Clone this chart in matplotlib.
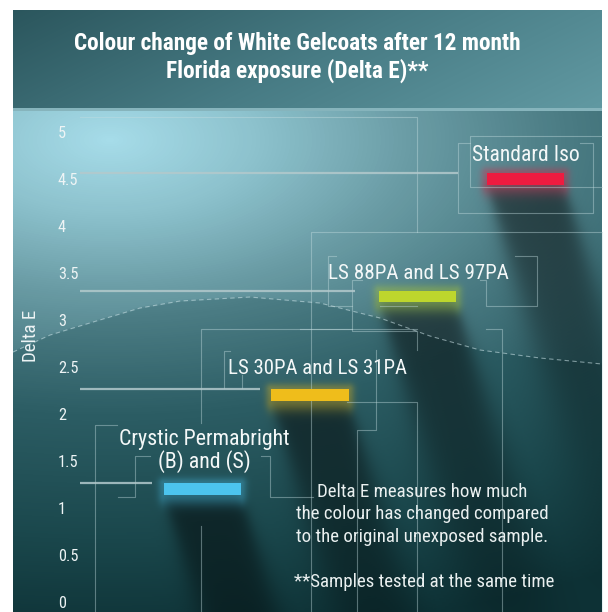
import os
import numpy as np
import matplotlib
matplotlib.use("Agg")
import matplotlib.pyplot as plt
from matplotlib.colors import LinearSegmentedColormap, to_rgb
from matplotlib import font_manager
from matplotlib.font_manager import FontProperties

# --- 데이터 ---
products = ["Crystic Permabright\n(B) and (S)", "LS 30PA and LS 31PA",
            "LS 88PA and LS 97PA", "Standard Iso"]
delta_e = [1.2, 2.2, 3.25, 4.5]
bar_colors = ["#4cc4ee", "#efbd1b", "#bdd62d", "#ee1b40"]
y_ticks = [0, 0.5, 1, 1.5, 2, 2.5, 3, 3.5, 4, 4.5, 5]
y_tick_labels = ["0", "0.5", "1", "1.5", "2", "2.5", "3", "3.5", "4", "4.5", "5"]
title_lines = ["Colour change of White Gelcoats after 12 month",
               "Florida exposure (Delta E)**"]
note_lines = ["Delta E measures how much",
              "the colour has changed compared",
              "to the original unexposed sample."]
footnote = "**Samples tested at the same time"

# --- 레이아웃 (픽셀) ---
W, H, DPI = 608, 612, 100
PANEL_L, PANEL_R = 13, 602
BANNER_T, BANNER_B = 10, 108
CHART_T = 111
Y0_PX, PX_PER_UNIT = 602, 94.0
X0_PX, PX_PER_CAT = 202.3, 107.7
BAR_W, BAR_H = 0.715, 0.124
SHADOW_SLOPE = 0.3
label_dx = [2, 7, 1, 0]          # 라벨 가로 오프셋 (px)
label_gap = [15, 15, 12, 12]     # 막대 윗변 ~ 라벨 baseline (px)
label_width = [171, 180, 181, 108]
guide_end_px = [152, 260, 355, 458]
GUIDE_START_PX = 80


def pick_font(weight):
    # 좁은(condensed) 글꼴이 있으면 사용, 없으면 DejaVu Sans
    cands = [("Liberation Sans Narrow", "normal", "Narrow"),
             ("Roboto Condensed", "normal", "Condensed"),
             ("Roboto", "condensed", "Condensed"),
             ("Noto Sans Condensed", "normal", "Condensed"),
             ("Noto Sans", "condensed", "Condensed"),
             ("Open Sans Condensed", "normal", "Condensed"),
             ("Open Sans", "condensed", "Condensed"),
             ("DejaVu Sans", "condensed", "Condensed"),
             ("Roboto", "normal", "Roboto"),
             ("Liberation Sans", "normal", "Liberation")]
    for fam, stretch, key in cands:
        try:
            p = font_manager.findfont(FontProperties(family=fam, stretch=stretch, weight=weight),
                                      fallback_to_default=False)
        except Exception:
            continue
        if key in os.path.basename(p):
            return p
    return font_manager.findfont(FontProperties(family="DejaVu Sans", weight=weight))


REG = pick_font("normal")
BOLD = pick_font("bold")


def fp(path):
    return FontProperties(fname=path)


# 배경 장식선 (px)
wave_px_x = [13, 50, 93, 140, 180, 250, 320, 380, 430, 480, 540, 602]
wave_px_y = [352, 335, 322, 308, 301, 297, 303, 318, 336, 350, 358, 364]
deco = [
    [(80, 117), (417, 117), (417, 232)],
    [(470, 143), (458, 143), (458, 213), (593, 213), (593, 143), (580, 143)],
    [(602, 136), (470, 136), (470, 187), (602, 187)],
    [(602, 232), (311, 232), (311, 612)],
    [(336, 256), (328, 256), (328, 306), (352, 306)],
    [(515, 256), (537, 256), (537, 306), (486, 306), (486, 280), (480, 280)],
    [(362, 280), (352, 280), (352, 331), (417, 331), (417, 350)],
    [(380, 306), (417, 306)],
    [(417, 329), (201, 329), (201, 423)],
    [(201, 526), (201, 612)],
    [(230, 351), (224, 351), (224, 388)],
    [(242, 375), (242, 388)],
    [(376, 350), (376, 430), (357, 430), (357, 612)],
    [(347, 402), (417, 402), (417, 612)],
    [(486, 329), (502, 329), (502, 612)],
    [(300, 329), (352, 329)],
    [(117, 425), (95, 425), (95, 612)],
    [(118, 497), (135, 497), (135, 456), (150, 456)],
    [(261, 456), (270, 456), (270, 497), (313, 497)],
    [(602, 232), (602, 612)],
]


def sigmoid(z):
    return 1.0 / (1.0 + np.exp(-np.clip(z, -50, 50)))


fig = plt.figure(figsize=(W / DPI, H / DPI), dpi=DPI)
renderer = fig.canvas.get_renderer()


def fit_width(artist, target_px, along="width"):
    # 글꼴 너비가 원본과 다르므로 폭에 맞춰 크기를 조정
    ext = artist.get_window_extent(renderer)
    cur = ext.width if along == "width" else ext.height
    artist.set_fontsize(artist.get_fontsize() * target_px / cur)
    return artist.get_fontsize()


bg = fig.add_axes([0, 0, 1, 1], zorder=0)
bg.set_xlim(0, W)
bg.set_ylim(H, 0)
bg.axis("off")

ax = fig.add_axes([PANEL_L / W, 0, (PANEL_R - PANEL_L) / W, (H - CHART_T) / H], zorder=1)
ax.set_xlim((PANEL_L - X0_PX) / PX_PER_CAT, (PANEL_R - X0_PX) / PX_PER_CAT)
ax.set_ylim((Y0_PX - H) / PX_PER_UNIT, (Y0_PX - CHART_T) / PX_PER_UNIT)
ax.patch.set_alpha(0)
for s in ax.spines.values():
    s.set_visible(False)

xpos = np.arange(len(products))
vals = np.array(delta_e)

# --- 배경 그라디언트 이미지 ---
yy, xx = np.mgrid[0:H, 0:W] + 0.5
img = np.ones((H, W, 3))
in_x = (xx >= PANEL_L) & (xx < PANEL_R)

banner_cmap = LinearSegmentedColormap.from_list("b", ["#2b565d", "#477b84", "#6199a2"])
tb = np.clip(0.75 * (xx - PANEL_L) / (PANEL_R - PANEL_L) + 0.25 * (yy - BANNER_T) / (BANNER_B - BANNER_T), 0, 1)
m_banner = in_x & (yy >= BANNER_T) & (yy < BANNER_B)
img[m_banner] = banner_cmap(tb[m_banner])[:, :3]
m_strip = in_x & (yy >= BANNER_B) & (yy < CHART_T)
img[m_strip] = to_rgb("#86b4bc")

stops = [(0, "#a6dce9"), (0.15, "#8cc1cc"), (0.3, "#6a9ca5"), (0.45, "#4c7d85"),
         (0.65, "#2c5d64"), (0.9, "#1a474c"), (1.1, "#0e3236")]
chart_cmap = LinearSegmentedColormap.from_list("c", [(p / 1.1, c) for p, c in stops])
r = np.hypot((xx - 110) / 1000, (yy - 140) / 500)
wave_at = np.interp(xx, wave_px_x, wave_px_y)
t = r + 0.1 * np.clip((yy - wave_at) / 3 + 0.5, 0, 1)
t = np.clip(t / 1.1, 0, 1)
chart = chart_cmap(t)[..., :3]

# 막대 그림자 / 빛 번짐 (막대 위치는 ax 스케일로 변환)
shade = np.zeros((H, W))
rects = []
for xc, v in zip(xpos, vals):
    (xl, yb), (xr, yt) = ax.transData.transform([(xc - BAR_W / 2, v - BAR_H / 2),
                                                 (xc + BAR_W / 2, v + BAR_H / 2)])
    top, bot = H - yt, H - yb
    rects.append((xl, xr, top, bot))
    d = yy - bot
    u = xx - SHADOW_SLOPE * np.clip(d, 0, None)
    soft = 3 + 0.04 * np.clip(d, 0, None)
    edge = sigmoid((u - xl) / soft) * sigmoid((xr - u) / soft)
    fade = np.clip(1 - d / 430, 0, 1) ** 0.8 * sigmoid(d / 5)
    shade = np.maximum(shade, edge * fade)
chart = chart * (1 - 0.5 * shade[..., None])

for (xl, xr, top, bot), c in zip(rects, bar_colors):
    dx = np.maximum.reduce([xl - xx, np.zeros_like(xx), xx - xr])
    dy = np.maximum.reduce([top - yy, np.zeros_like(yy), (yy - bot) / 1.8])
    g = 0.35 * np.exp(-(np.hypot(dx, dy) / 6) ** 2)
    chart = chart * (1 - g[..., None]) + np.array(to_rgb(c)) * g[..., None]

m_chart = in_x & (yy >= CHART_T)
img[m_chart] = chart[m_chart]
bg.imshow(img, extent=(0, W, H, 0), interpolation="bilinear", zorder=0)

# 물결선 (점선)
bg.plot(wave_px_x, wave_px_y, color="#cfe6ea", lw=0.8, ls=(0, (4, 3)), alpha=0.55, zorder=1)

# 장식 프레임선 (그림자 위에)
for seg in deco:
    sx, sy = zip(*seg)
    ax.plot(sx, sy, color="#c4dde0", lw=0.8, alpha=0.42, transform=bg.transData,
            zorder=2, clip_on=False)

# --- 데이터 ---
for i, v in enumerate(vals):
    xmin = (GUIDE_START_PX - X0_PX) / PX_PER_CAT
    xmax = (guide_end_px[i] - X0_PX) / PX_PER_CAT
    ax.hlines(v + BAR_H / 2, xmin, xmax, color="#b3c9cc", lw=1.6, alpha=0.85, zorder=2)

ax.bar(xpos, [BAR_H] * len(vals), bottom=vals - BAR_H / 2, width=BAR_W,
       color=bar_colors, zorder=3)

label_sizes = []
for i, (name, v) in enumerate(zip(products, vals)):
    a = ax.annotate(name, xy=(xpos[i], v + BAR_H / 2), xytext=(label_dx[i], label_gap[i]),
                    textcoords="offset pixels", ha="center", va="baseline",
                    fontproperties=fp(REG), fontsize=16.5, color="#f4f8f8",
                    linespacing=1.0, zorder=4)
    label_sizes.append(fit_width(a, label_width[i]))
scale = np.mean(label_sizes) / 16.5

ax.set_xticks([])
ax.set_yticks(y_ticks, y_tick_labels)
ax.tick_params(axis="y", length=0, pad=-45 * 72 / DPI, labelcolor="#eef4f5")
for lbl in ax.get_yticklabels():
    lbl.set_horizontalalignment("left")
    lbl.set_fontproperties(fp(REG))
    lbl.set_fontsize(12.5 * scale)

yl = bg.text(31, 336, "Delta E", rotation=90, ha="center", va="center",
             fontproperties=fp(REG), fontsize=13.5, color="#eef4f5")
fit_width(yl, 52, along="height")

# 제목
t1 = bg.text(297, 50, title_lines[0], ha="center", va="baseline",
             fontproperties=fp(BOLD), fontsize=17, color="white")
title_size = fit_width(t1, 448)
bg.text(297, 78, title_lines[1], ha="center", va="baseline",
        fontproperties=fp(BOLD), fontsize=title_size, color="white")

# 설명
n1 = bg.text(422, 497, note_lines[0], ha="center", va="baseline",
             fontproperties=fp(REG), fontsize=14, color="#eaf0f0")
note_size = fit_width(n1, 211)
for line, yb in zip(note_lines[1:], [519, 542]):
    bg.text(422, yb, line, ha="center", va="baseline",
            fontproperties=fp(REG), fontsize=note_size, color="#eaf0f0")
bg.text(424, 587, footnote, ha="center", va="baseline",
        fontproperties=fp(REG), fontsize=note_size, color="#eaf0f0")

fig.savefig("out.png", dpi=DPI)
